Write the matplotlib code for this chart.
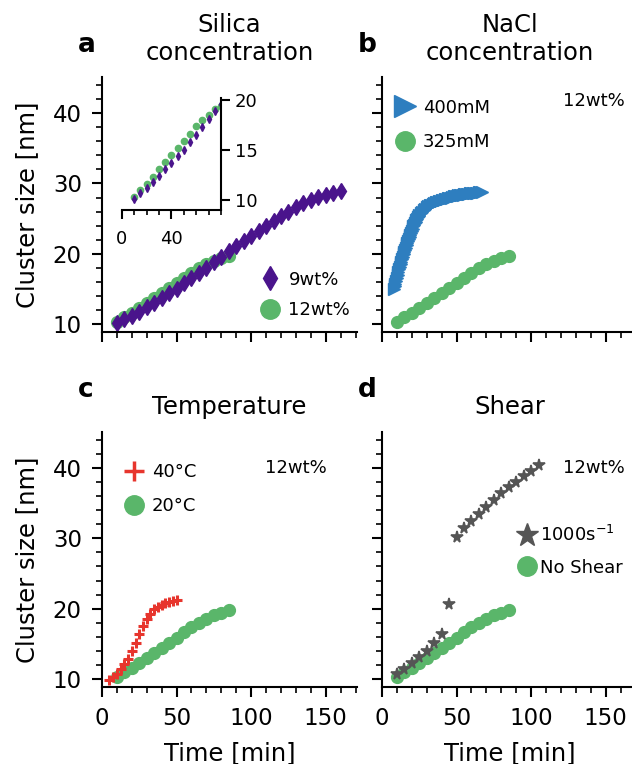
import numpy as np
import matplotlib
matplotlib.use("Agg")
import matplotlib.pyplot as plt
from matplotlib.lines import Line2D
from matplotlib.ticker import MultipleLocator, FixedLocator

PURPLE, BLUE, GREEN, RED, GRAY = "#4a148c", "#2e7ebf", "#5ab66a", "#e7352d", "#555555"

# reference run: 12wt%, 325mM, 20°C, no shear (shown in every panel)
t_ref = [10, 15, 20, 25, 30, 35, 40, 45, 50, 55, 60, 65, 70, 75, 80, 85]
size_ref = [10.28, 10.99, 11.64, 12.35, 13.06, 13.77, 14.48, 15.19,
            15.90, 16.65, 17.36, 17.97, 18.54, 19.06, 19.43, 19.77]

# a: 9wt% silica
t_9wt = [10, 15, 20, 25, 30, 35, 40, 45, 50, 55, 60, 65, 70, 75, 80, 85,
         90, 95, 100, 105, 110, 115, 120, 125, 130, 135, 140, 145, 150, 155, 160]
size_9wt = [10.14, 10.71, 11.22, 11.78, 12.41, 13.06, 13.68, 14.39, 15.04, 15.81,
            16.52, 17.31, 18.07, 18.87, 19.58, 20.38, 21.13, 21.84, 22.55, 23.26,
            23.97, 24.67, 25.38, 25.95, 26.66, 27.22, 27.71, 28.07, 28.41, 28.64, 28.92]

# b: 400mM NaCl
t_400mM = [8, 8.5, 9, 9.5, 10, 10.5, 11, 11.5, 12, 12.5, 13, 13.5, 14, 14.5, 15,
           15.5, 16, 16.5, 17, 17.5, 18, 18.5, 19, 19.5, 20, 20.5, 21, 21.5, 22,
           22.5, 23, 23.5, 24, 24.5, 25, 26, 27, 28, 29, 30, 31, 32, 33, 34, 35,
           36, 37, 38, 39, 40, 41, 42, 43, 44, 45, 46, 47, 48, 49, 50, 51, 52, 53,
           54, 55, 56, 57, 58, 59, 60, 61, 62, 63, 64, 65, 66, 67]
size_400mM = [15.0, 15.4, 15.8, 16.2, 16.6, 17.0, 17.4, 17.8, 18.2, 18.55, 18.9,
              19.25, 19.6, 19.95, 20.3, 20.6, 20.9, 21.2, 21.5, 21.8, 22.1, 22.4,
              22.7, 23.0, 23.3, 23.6, 23.9, 24.15, 24.4, 24.6, 24.8, 25.0, 25.2,
              25.35, 25.5, 25.8, 26.0, 26.2, 26.4, 26.6, 26.75, 26.9, 27.0, 27.1,
              27.2, 27.3, 27.4, 27.5, 27.55, 27.6, 27.7, 27.75, 27.8, 27.9, 27.95,
              28.0, 28.1, 28.15, 28.2, 28.25, 28.3, 28.35, 28.4, 28.4, 28.45, 28.5,
              28.5, 28.55, 28.6, 28.6, 28.65, 28.65, 28.7, 28.7, 28.75, 28.75, 28.8]

# c: 40°C
t_40C = [5, 7.5, 10, 12.5, 15, 17.5, 20, 22.5, 25, 27.5, 30, 32.5, 35, 37.5,
         40, 42.5, 45, 47.5, 50]
size_40C = [9.9, 10.3, 10.8, 11.4, 12.1, 12.9, 14.0, 15.1, 16.4, 17.5, 18.5, 19.3,
            19.9, 20.3, 20.6, 20.8, 21.0, 21.1, 21.2]

# d: 1000 s^-1 shear
t_shear = [10, 15, 20, 25, 30, 35, 40, 45, 50, 55, 60, 65, 70, 75, 80, 85,
           90, 95, 100, 105]
size_shear = [10.75, 11.5, 12.27, 13.1, 14.07, 15.1, 16.4, 20.7, 30.2, 31.5,
              32.5, 33.5, 34.4, 35.4, 36.4, 37.3, 38.0, 38.9, 39.6, 40.4]

FS, FS_LAB = 16.5, 17.5
plt.rcParams.update({"font.size": FS, "axes.linewidth": 1.5,
                     "xtick.major.width": 1.5, "ytick.major.width": 1.5,
                     "xtick.minor.width": 1.2, "ytick.minor.width": 1.2,
                     "xtick.major.size": 7, "ytick.major.size": 7,
                     "xtick.minor.size": 4.5, "ytick.minor.size": 4.5,
                     "xtick.major.pad": 7.5, "ytick.major.pad": 7.5})

fig = plt.figure(figsize=(6.32, 7.64), dpi=100)
W, H = 0.4035, 0.334
pos = {"a": (0.1614, 0.5652), "b": (0.6044, 0.5652),
       "c": (0.1614, 0.1008), "d": (0.6044, 0.1008)}
axes = {k: fig.add_axes([x, y, W, H]) for k, (x, y) in pos.items()}

titles = {"a": "Silica\nconcentration", "b": "NaCl\nconcentration",
          "c": "Temperature", "d": "Shear"}
for k, ax in axes.items():
    ax.set_xlim(0, 171)
    ax.set_ylim(8.9, 45.1)
    ax.spines[["top", "right"]].set_visible(False)
    ax.xaxis.set_major_locator(MultipleLocator(50))
    ax.xaxis.set_minor_locator(MultipleLocator(10))
    ax.yaxis.set_major_locator(MultipleLocator(10))
    ax.yaxis.set_minor_locator(MultipleLocator(2))
    ax.set_title(titles[k], fontsize=FS_LAB, pad=12.5)
    if k in "ab":
        ax.tick_params(axis="x", labelbottom=False)
    else:
        ax.set_xlabel("Time [min]", fontsize=FS_LAB, labelpad=8)
    if k in "bd":
        ax.tick_params(axis="y", labelleft=False)
    else:
        ax.set_ylabel("Cluster size [nm]", fontsize=FS_LAB, labelpad=10)

for k, (x, y) in {"a": (0.124, 0.9315), "b": (0.566, 0.9315),
                  "c": (0.124, 0.4804), "d": (0.566, 0.4804)}.items():
    fig.text(x, y, k, fontsize=19, fontweight="bold", va="baseline")

ref_kw = dict(ls="none", marker="o", ms=8.5, color=GREEN)
leg_kw = dict(frameon=False, fontsize=13, handlelength=1.0, handletextpad=0.5,
              labelspacing=0.9, borderpad=0, borderaxespad=0)

# a
ax = axes["a"]
ax.plot(t_ref, size_ref, **ref_kw)
ax.plot(t_9wt, size_9wt, ls="none", marker="d", ms=8.5, color=PURPLE)
h = [Line2D([], [], ls="none", marker="d", ms=12, color=PURPLE),
     Line2D([], [], ls="none", marker="o", ms=14, color=GREEN)]
ax.legend(h, ["9wt%", "12wt%"], loc="lower left", bbox_to_anchor=(0.625, 0.05),
          **dict(leg_kw, labelspacing=0.7))

ins = fig.add_axes([0.1926, 0.7251, 0.157, 0.1466])
ins.plot(t_ref, size_ref, ls="none", marker="o", ms=4.5, color=GREEN)
ins.plot(t_9wt, size_9wt, ls="none", marker="d", ms=4.2, color=PURPLE)
ins.set_xlim(0, 80)
ins.set_ylim(9.0, 20.2)
ins.spines[["top", "left"]].set_visible(False)
ins.yaxis.tick_right()
ins.xaxis.set_major_locator(FixedLocator([0, 40]))
ins.xaxis.set_minor_locator(FixedLocator([10, 20, 30, 50, 60, 70, 80]))
ins.yaxis.set_major_locator(MultipleLocator(5))
ins.yaxis.set_minor_locator(plt.NullLocator())
ins.tick_params(labelsize=13, which="major", length=6.5)
ins.tick_params(axis="x", which="major", pad=8)
ins.tick_params(axis="y", which="major", pad=3.5)
ins.tick_params(which="minor", length=3.5)

# b
ax = axes["b"]
ax.plot(t_400mM, size_400mM, ls="none", marker=">", ms=8.5, color=BLUE)
ax.plot(t_ref, size_ref, **ref_kw)
h = [Line2D([], [], ls="none", marker=">", ms=16, color=BLUE),
     Line2D([], [], ls="none", marker="o", ms=14, color=GREEN)]
ax.legend(h, ["400mM", "325mM"], loc="upper left", bbox_to_anchor=(0.055, 0.915), **leg_kw)
ax.text(0.83, 0.905, "12wt%", transform=ax.transAxes, ha="center", va="center", fontsize=13)

# c
ax = axes["c"]
ax.plot(t_ref, size_ref, **ref_kw)
ax.plot(t_40C, size_40C, ls="none", marker="+", ms=7, mew=2.2, color=RED)
h = [Line2D([], [], ls="none", marker="+", ms=15, mew=2.5, color=RED),
     Line2D([], [], ls="none", marker="o", ms=14, color=GREEN)]
ax.legend(h, ["40°C", "20°C"], loc="upper left", bbox_to_anchor=(0.09, 0.878), **leg_kw)
ax.text(0.76, 0.86, "12wt%", transform=ax.transAxes, ha="center", va="center", fontsize=13)

# d
ax = axes["d"]
ax.plot(t_ref, size_ref, **ref_kw)
ax.plot(t_shear, size_shear, ls="none", marker="*", ms=8.5, mew=1.2, color=GRAY)
h = [Line2D([], [], ls="none", marker="*", ms=17, color=GRAY),
     Line2D([], [], ls="none", marker="o", ms=14, color=GREEN)]
ax.legend(h, ["1000s$^{-1}$", "No Shear"], loc="upper left", bbox_to_anchor=(0.535, 0.635),
          **dict(leg_kw, handletextpad=0.2, labelspacing=0.75))
ax.text(0.83, 0.86, "12wt%", transform=ax.transAxes, ha="center", va="center", fontsize=13)

fig.savefig("out.png", dpi=100)
